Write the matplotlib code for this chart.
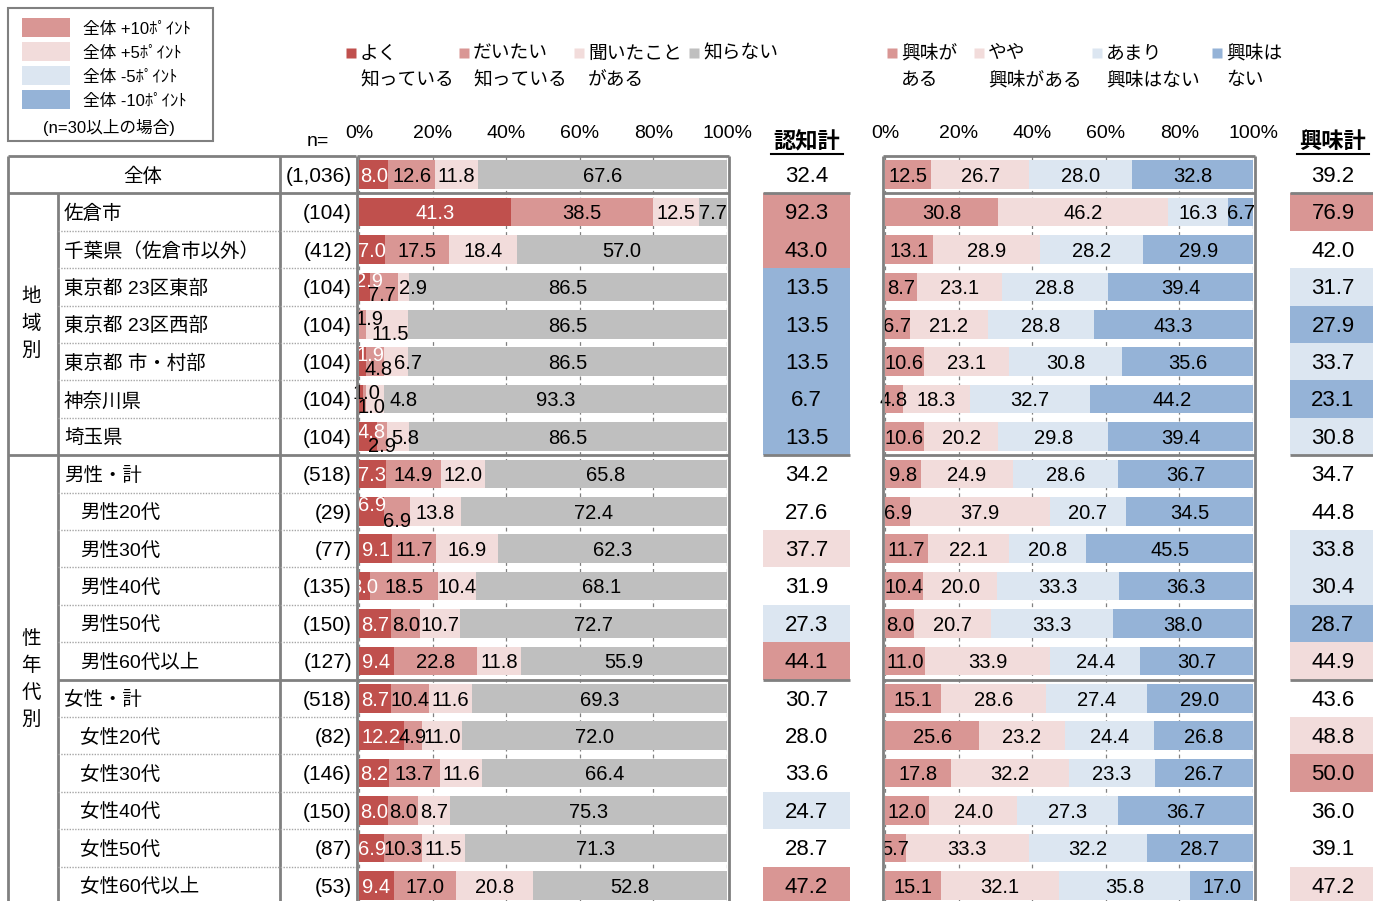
import matplotlib
matplotlib.use('Agg')
import matplotlib.pyplot as plt
from matplotlib.patches import Rectangle

plt.rcParams['font.family'] = ['Liberation Sans', 'Noto Sans CJK JP']

# ---- data ----
row_labels = ['全体', '佐倉市', '千葉県（佐倉市以外）', '東京都 23区東部', '東京都 23区西部',
              '東京都 市・村部', '神奈川県', '埼玉県',
              '男性・計', '男性20代', '男性30代', '男性40代', '男性50代', '男性60代以上',
              '女性・計', '女性20代', '女性30代', '女性40代', '女性50代', '女性60代以上']
n_labels = ['(1,036)', '(104)', '(412)', '(104)', '(104)', '(104)', '(104)', '(104)',
            '(518)', '(29)', '(77)', '(135)', '(150)', '(127)',
            '(518)', '(82)', '(146)', '(150)', '(87)', '(53)']
n_values = [1036, 104, 412, 104, 104, 104, 104, 104, 518, 29, 77, 135, 150, 127,
            518, 82, 146, 150, 87, 53]

aware_names = [('よく', '知っている'), ('だいたい', '知っている'), ('聞いたこと', 'がある'), ('知らない', '')]
yoku = [8.0, 41.3, 7.0, 2.9, 0.0, 1.9, 1.0, 4.8, 7.3, 6.9, 9.1, 3.0, 8.7, 9.4,
        8.7, 12.2, 8.2, 8.0, 6.9, 9.4]
daitai = [12.6, 38.5, 17.5, 7.7, 1.9, 4.8, 1.0, 2.9, 14.9, 6.9, 11.7, 18.5, 8.0, 22.8,
          10.4, 4.9, 13.7, 8.0, 10.3, 17.0]
kiita = [11.8, 12.5, 18.4, 2.9, 11.5, 6.7, 4.8, 5.8, 12.0, 13.8, 16.9, 10.4, 10.7, 11.8,
         11.6, 11.0, 11.6, 8.7, 11.5, 20.8]
shiranai = [67.6, 7.7, 57.0, 86.5, 86.5, 86.5, 93.3, 86.5, 65.8, 72.4, 62.3, 68.1, 72.7, 55.9,
            69.3, 72.0, 66.4, 75.3, 71.3, 52.8]
ninchi_total = [32.4, 92.3, 43.0, 13.5, 13.5, 13.5, 6.7, 13.5, 34.2, 27.6, 37.7, 31.9, 27.3, 44.1,
                30.7, 28.0, 33.6, 24.7, 28.7, 47.2]

interest_names = [('興味が', 'ある'), ('やや', '興味がある'), ('あまり', '興味はない'), ('興味は', 'ない')]
kyomi_aru = [12.5, 30.8, 13.1, 8.7, 6.7, 10.6, 4.8, 10.6, 9.8, 6.9, 11.7, 10.4, 8.0, 11.0,
             15.1, 25.6, 17.8, 12.0, 5.7, 15.1]
yaya = [26.7, 46.2, 28.9, 23.1, 21.2, 23.1, 18.3, 20.2, 24.9, 37.9, 22.1, 20.0, 20.7, 33.9,
        28.6, 23.2, 32.2, 24.0, 33.3, 32.1]
amari = [28.0, 16.3, 28.2, 28.8, 28.8, 30.8, 32.7, 29.8, 28.6, 20.7, 20.8, 33.3, 33.3, 24.4,
         27.4, 24.4, 23.3, 27.3, 32.2, 35.8]
kyomi_nai = [32.8, 6.7, 29.9, 39.4, 43.3, 35.6, 44.2, 39.4, 36.7, 34.5, 45.5, 36.3, 38.0, 30.7,
             29.0, 26.8, 26.7, 36.7, 28.7, 17.0]
kyomi_total = [39.2, 76.9, 42.0, 31.7, 27.9, 33.7, 23.1, 30.8, 34.7, 44.8, 33.8, 30.4, 28.7, 44.9,
               43.6, 48.8, 50.0, 36.0, 39.1, 47.2]

# ---- style ----
C_DARK = '#C0504D'
C_P10 = '#D99694'
C_P5 = '#F2DCDB'
C_M5 = '#DCE6F1'
C_M10 = '#95B3D7'
C_GRAY = '#BFBFBF'
LINE = '#808080'
aware_colors = [C_DARK, C_P10, C_P5, C_GRAY]
interest_colors = [C_P10, C_P5, C_M5, C_M10]

# manual label nudges for crowded small segments: (row, segment) -> (dx %, dy rows)
nudges = {(3, 0): (1.4, -0.19), (3, 1): (-0.5, 0.19), (3, 2): (2.7, 0),
          (4, 1): (2.0, -0.19), (4, 2): (0.8, 0.21),
          (5, 0): (2.2, -0.21), (5, 1): (1.0, 0.17), (5, 2): (3.3, 0),
          (6, 0): (1.4, -0.19), (6, 1): (1.8, 0.17), (6, 2): (7.6, 0),
          (7, 0): (1.0, -0.17), (7, 1): (0.0, 0.22), (7, 2): (2.0, 0),
          (9, 0): (0.0, -0.21), (9, 1): (0.0, 0.22)}

W, H = 1373, 901
RH = 37.4
R0 = 174.7


def ry(ypx):
    return (ypx - R0) / RH


nrows = len(row_labels)
rows = list(range(nrows))
sub_rows = [9, 10, 11, 12, 13, 15, 16, 17, 18, 19]

fig = plt.figure(figsize=(W / 100, H / 100), dpi=100)
base = fig.add_axes([0, 0, 1, 1])
base.set_xlim(0, W)
base.set_ylim(ry(H), ry(0))
base.axis('off')


def panel(x0, x1, series, colors, first_white):
    ax = fig.add_axes([x0 / W, 0, (x1 - x0) / W, 1])
    ax.set_xlim(0, 100)
    ax.set_ylim(ry(H), ry(0))
    ax.axis('off')
    ax.vlines([0, 20, 40, 60, 80, 100], -0.5, nrows - 0.5, colors=LINE, lw=0.9,
              linestyles=(0, (3, 2.5)), zorder=1)
    left = [0.0] * nrows
    for k, (vals, col) in enumerate(zip(series, colors)):
        ax.barh(rows, vals, left=left, height=0.76, color=col, zorder=2)
        for r, v in enumerate(vals):
            if v <= 0:
                continue
            dx, dy = nudges.get((r, k), (0, 0)) if first_white else (0, 0)
            tc = 'white' if (first_white and k == 0 and v > 1.0) else 'black'
            ax.text(left[r] + v / 2 + dx, r + dy + 0.05, f'{v:.1f}', ha='center', va='center',
                    fontsize=14.5, color=tc, zorder=4)
        left = [a + b for a, b in zip(left, vals)]
    ax.vlines([-0.6, 100.6], -0.5, nrows - 0.5, colors=LINE, lw=2, clip_on=False, zorder=5)
    ax.hlines([-0.5, 0.5, 7.5, 13.5], -0.6, 100.6, colors=LINE, lw=2, clip_on=False, zorder=5)
    for p in range(0, 101, 20):
        ax.text(p, ry(133), f'{p}%', ha='center', va='center', fontsize=14)
    return ax


panel(359, 727, [yoku, daitai, kiita, shiranai], aware_colors, True)
panel(885, 1253, [kyomi_aru, yaya, amari, kyomi_nai], interest_colors, False)


# ---- total columns ----
def hl_color(v, ref, n):
    if n < 30:
        return None
    d = v - ref
    if d >= 10:
        return C_P10
    if d >= 5:
        return C_P5
    if d <= -10:
        return C_M10
    if d <= -5:
        return C_M5
    return None


def total_col(x0, x1, vals, title):
    xc = (x0 + x1) / 2
    for r, v in enumerate(vals):
        c = hl_color(v, vals[0], n_values[r]) if r > 0 else None
        if c:
            base.add_patch(Rectangle((x0, r - 0.5), x1 - x0, 1, color=c, lw=0, zorder=1))
        base.text(xc, r + 0.05, f'{v:.1f}', ha='center', va='center', fontsize=16, zorder=3)
    base.hlines([0.5, 7.5, 13.5], x0, x1, colors=LINE, lw=2, zorder=2)
    base.text(xc, ry(143), title, ha='center', va='center', fontsize=16, fontweight='bold')
    base.plot([xc - 36, xc + 36], [ry(154), ry(154)], color='black', lw=1.5)


total_col(763, 850, ninchi_total, '認知計')
total_col(1290, 1376, kyomi_total, '興味計')

# ---- table ----
base.text(143, 0.05, row_labels[0], ha='center', va='center', fontsize=14)
for r in rows[1:]:
    x = 80 if r in sub_rows else 64
    base.text(x, r + 0.05, row_labels[r], ha='left', va='center', fontsize=14)
for r in rows:
    base.text(352, r + 0.05, n_labels[r], ha='right', va='center', fontsize=15)

for i, ch in enumerate('地域別'):
    base.text(31, 4 + (i - 1) * 0.72, ch, ha='center', va='center', fontsize=14)
for i, ch in enumerate('性年代別'):
    base.text(31, 13.5 + (i - 1.5) * 0.72, ch, ha='center', va='center', fontsize=14)

base.hlines([-0.5, 0.5, 7.5], 8, 356, colors=LINE, lw=2)
base.hlines([13.5], 58, 356, colors=LINE, lw=2)
base.vlines([8, 280], -0.5, nrows, colors=LINE, lw=2)
base.vlines([58], 0.5, nrows, colors=LINE, lw=2)
dotted = [r + 0.5 for r in rows if r not in (0, 7, 13, 19)]
base.hlines(dotted, 58, 356, colors='#a6a6a6', lw=1, linestyles=(0, (1, 1)))

base.text(318, ry(142), 'n=', ha='center', va='center', fontsize=14)


# ---- series legends ----
def series_legend(xs, names, colors):
    for x, (l1, l2), c in zip(xs, names, colors):
        base.plot(x, ry(53), 's', ms=7, color=c, mec='none')
        base.text(x + 9, ry(54), l1, ha='left', va='center', fontsize=13.5)
        if l2:
            base.text(x + 9, ry(81), l2, ha='left', va='center', fontsize=13.5)


series_legend([351, 464, 579, 694], aware_names, aware_colors)
series_legend([892, 979, 1097, 1217], interest_names, interest_colors)

# ---- highlight legend ----
base.add_patch(Rectangle((8, ry(141)), 205, ry(8) - ry(141), fill=False, ec=LINE, lw=1.5))
hl_items = [(C_P10, '全体 +10ﾎﾟｲﾝﾄ'), (C_P5, '全体 +5ﾎﾟｲﾝﾄ'),
            (C_M5, '全体 -5ﾎﾟｲﾝﾄ'), (C_M10, '全体 -10ﾎﾟｲﾝﾄ')]
for i, (c, t) in enumerate(hl_items):
    yc = 27.5 + 24 * i
    base.add_patch(Rectangle((22, ry(yc + 9.5)), 48, ry(yc - 9.5) - ry(yc + 9.5), color=c, lw=0))
    base.text(83, ry(yc + 1.5), t, ha='left', va='center', fontsize=12)
base.text(109, ry(127), '(n=30以上の場合)', ha='center', va='center', fontsize=12)

fig.savefig('out.png', dpi=100)
